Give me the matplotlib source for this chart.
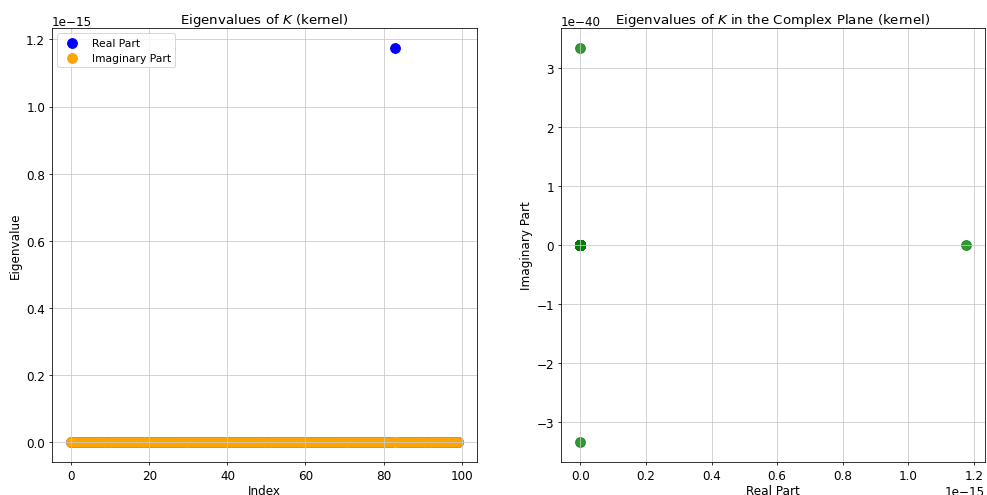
import numpy as np
import matplotlib
matplotlib.use('Agg')
from matplotlib import pyplot as plt

# eigenvalues of K, index 0..99
n_eig = 100
big_idx = 83
big_val = 1.175e-15
tiny_imag = 3.34e-40

real_part = np.zeros(n_eig)
real_part[big_idx] = big_val
imag_part = np.zeros(n_eig)
imag_part[1] = tiny_imag
imag_part[2] = -tiny_imag

idx = np.arange(n_eig)

plt.rcParams['font.size'] = 12.3
plt.rcParams['axes.titlesize'] = 13.7
plt.rcParams['legend.fontsize'] = 11
plt.rcParams['grid.color'] = '#c8c8c8'

fig = plt.figure(figsize=(14, 7.035), dpi=70.5)
ax1 = fig.add_axes([0.0527, 0.0665, 0.4306, 0.875])
ax2 = fig.add_axes([0.5684, 0.0665, 0.4296, 0.875])

ax1.scatter(idx, real_part, color='blue', s=100, label='Real Part')
ax1.scatter(idx, imag_part, color='orange', s=100, label='Imaginary Part')
ax1.set_title('Eigenvalues of $K$ (kernel)', pad=5)
ax1.set_xlabel('Index', labelpad=2)
ax1.set_ylabel('Eigenvalue')
ax1.legend(loc='upper left')
ax1.grid(True)

ax2.scatter(real_part, imag_part, color='green', s=100, alpha=0.8)
ax2.set_title('Eigenvalues of $K$ in the Complex Plane (kernel)', pad=5)
ax2.set_xlabel('Real Part', labelpad=2)
ax2.set_ylabel('Imaginary Part')
ax2.grid(True)

fig.savefig('out.png', dpi=70.5)
